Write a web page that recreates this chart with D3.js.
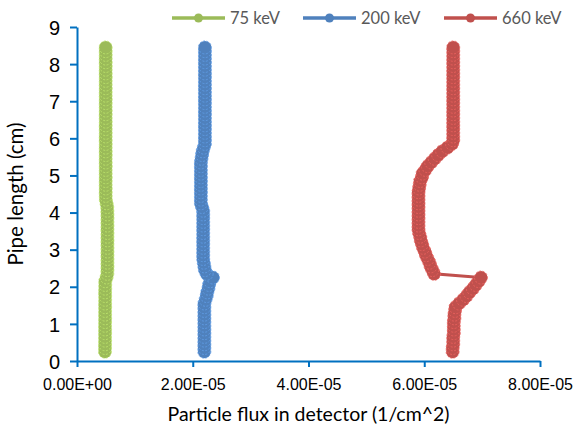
<!DOCTYPE html>
<html><head><meta charset="utf-8">
<script src="https://cdn.jsdelivr.net/npm/d3@7"></script>
<style>html,body{margin:0;padding:0;background:#fff;}svg{display:block;font-family:Lato,"Open Sans",sans-serif;}</style>
</head><body><div id="chart"></div>
<script>
const pipeLength = [0.25,0.35,0.45,0.55,0.65,0.75,0.85,0.95,1.05,1.15,1.25,1.35,1.45,1.55,1.65,1.75,1.85,1.95,2.05,2.15,2.25,2.35,2.45,2.55,2.65,2.75,2.85,2.95,3.05,3.15,3.25,3.35,3.45,3.55,3.65,3.75,3.85,3.95,4.05,4.15,4.25,4.35,4.45,4.55,4.65,4.75,4.85,4.95,5.05,5.15,5.25,5.35,5.45,5.55,5.65,5.75,5.85,5.95,6.05,6.15,6.25,6.35,6.45,6.55,6.65,6.75,6.85,6.95,7.05,7.15,7.25,7.35,7.45,7.55,7.65,7.75,7.85,7.95,8.05,8.15,8.25,8.35,8.45];

const flux75 = [
0.483e-5,0.484e-5,0.484e-5,0.485e-5,0.484e-5,0.485e-5,0.485e-5,0.484e-5,0.485e-5,0.486e-5,
0.485e-5,0.485e-5,0.486e-5,0.485e-5,0.486e-5,0.486e-5,0.485e-5,0.487e-5,0.487e-5,0.488e-5,
0.510e-5,
0.524e-5,0.525e-5,0.526e-5,0.525e-5,0.526e-5,0.525e-5,0.526e-5,0.526e-5,0.525e-5,0.526e-5,
0.525e-5,0.526e-5,0.525e-5,0.526e-5,0.525e-5,0.526e-5,0.525e-5,0.524e-5,0.522e-5,
0.510e-5,
0.497e-5,0.496e-5,0.495e-5,0.496e-5,0.495e-5,0.495e-5,0.496e-5,0.495e-5,0.495e-5,0.496e-5,
0.495e-5,0.495e-5,0.496e-5,0.495e-5,0.495e-5,0.496e-5,0.495e-5,0.495e-5,0.496e-5,0.495e-5,
0.495e-5,0.496e-5,0.495e-5,0.495e-5,0.496e-5,0.495e-5,0.495e-5,0.496e-5,0.495e-5,0.495e-5,
0.496e-5,0.495e-5,0.495e-5,0.496e-5,0.495e-5,0.495e-5,0.496e-5,0.495e-5,0.495e-5,0.496e-5,
0.495e-5,0.495e-5];

const flux200 = [
2.20e-5,2.20e-5,2.20e-5,2.20e-5,2.20e-5,2.20e-5,2.20e-5,2.20e-5,2.20e-5,2.20e-5,2.20e-5,2.20e-5,2.20e-5,
2.20e-5,2.22e-5,2.24e-5,2.25e-5,2.27e-5,2.28e-5,2.30e-5,2.35e-5,
2.24e-5,2.21e-5,2.20e-5,2.19e-5,
2.18e-5,2.18e-5,2.18e-5,2.18e-5,2.18e-5,2.18e-5,2.18e-5,2.18e-5,2.18e-5,2.18e-5,2.18e-5,2.18e-5,2.18e-5,2.18e-5,
2.16e-5,
2.14e-5,2.14e-5,2.14e-5,2.14e-5,2.14e-5,2.14e-5,2.14e-5,2.14e-5,2.14e-5,2.14e-5,2.14e-5,2.14e-5,
2.15e-5,2.16e-5,2.17e-5,2.19e-5,
2.21e-5,2.21e-5,2.21e-5,2.21e-5,2.21e-5,2.21e-5,2.21e-5,2.21e-5,2.21e-5,2.21e-5,2.21e-5,2.21e-5,2.21e-5,2.21e-5,
2.21e-5,2.21e-5,2.21e-5,2.21e-5,2.21e-5,2.21e-5,2.21e-5,2.21e-5,2.21e-5,2.21e-5,2.21e-5,2.21e-5,2.21e-5];

const flux660 = [
6.49e-5,6.49e-5,6.50e-5,6.50e-5,6.50e-5,6.51e-5,6.51e-5,6.51e-5,6.51e-5,6.52e-5,6.52e-5,6.53e-5,6.54e-5,
6.60e-5,6.67e-5,6.73e-5,6.78e-5,6.84e-5,6.89e-5,6.94e-5,6.98e-5,
6.17e-5,6.14e-5,6.11e-5,6.09e-5,6.06e-5,6.03e-5,6.01e-5,5.98e-5,5.96e-5,5.94e-5,5.93e-5,5.91e-5,
5.90e-5,5.90e-5,5.90e-5,5.90e-5,5.90e-5,5.90e-5,5.90e-5,5.90e-5,5.90e-5,5.90e-5,
5.90e-5,5.91e-5,5.92e-5,5.93e-5,5.96e-5,5.97e-5,6.02e-5,6.06e-5,6.12e-5,6.18e-5,6.24e-5,6.31e-5,6.40e-5,6.48e-5,
6.50e-5,6.50e-5,6.50e-5,6.50e-5,6.50e-5,6.50e-5,6.50e-5,6.50e-5,6.50e-5,6.50e-5,6.50e-5,6.50e-5,6.50e-5,
6.50e-5,6.50e-5,6.50e-5,6.50e-5,6.50e-5,6.50e-5,6.50e-5,6.50e-5,6.50e-5,6.50e-5,6.50e-5,6.50e-5,6.50e-5];

const seriesNames = ["75 keV","200 keV","660 keV"];
const seriesColors = ["#9BBB59","#4F81BD","#C0504D"];
const xTicks = [0, 2e-5, 4e-5, 6e-5, 8e-5];
const xTickLabels = ["0.00E+00","2.00E-05","4.00E-05","6.00E-05","8.00E-05"];
const yTicks = [0,1,2,3,4,5,6,7,8,9];
const xTitle = "Particle flux in detector (1/cm^2)";
const yTitle = "Pipe length (cm)";

const W = 574, H = 430;
const axisColor = "#0070C0";
const svg = d3.select("#chart").append("svg").attr("width", W).attr("height", H);

const x = d3.scaleLinear().domain([0, 8e-5]).range([77, 540]);
const y = d3.scaleLinear().domain([0, 9]).range([361, 27]);

// axes
const yAxis = svg.append("g").attr("transform", `translate(${x(0)},0)`)
  .call(d3.axisLeft(y).tickValues(yTicks).tickSize(7).tickSizeOuter(0).tickPadding(10).tickFormat(d3.format("d")));
yAxis.selectAll("path,line").attr("stroke", axisColor).attr("stroke-width", 2);
yAxis.selectAll("text").attr("font-size", 20).attr("fill", "#000").attr("dy", "0.36em");

const xAxis = svg.append("g").attr("transform", `translate(0,${y(0)})`)
  .call(d3.axisBottom(x).tickValues(xTicks).tickSize(6).tickSizeOuter(0).tickPadding(12)
    .tickFormat((d, i) => xTickLabels[i]));
xAxis.selectAll("path,line").attr("stroke", axisColor).attr("stroke-width", 2);
xAxis.selectAll("text").attr("font-size", 16).attr("fill", "#000");

// titles
svg.append("text").attr("x", (x(0) + x(8e-5)) / 2).attr("y", 421)
  .attr("text-anchor", "middle").attr("font-size", 19.5).attr("fill", "#000").text(xTitle);
svg.append("text").attr("transform", `translate(23,${(y(0) + y(9)) / 2}) rotate(-90)`)
  .attr("text-anchor", "middle").attr("font-size", 20.5).attr("fill", "#000").text(yTitle);

// series
const allFlux = [flux75, flux200, flux660];
const line = d3.line().x(d => x(d[0])).y(d => y(d[1]));
allFlux.forEach((arr, s) => {
  const pts = arr.map((v, i) => [v, pipeLength[i]]);
  const g = svg.append("g");
  g.append("path").datum(pts).attr("d", line).attr("fill", "none")
    .attr("stroke", seriesColors[s]).attr("stroke-width", 3);
  g.selectAll("circle").data(pts).enter().append("circle")
    .attr("cx", d => x(d[0])).attr("cy", d => y(d[1])).attr("r", 6.5)
    .attr("fill", seriesColors[s])
    .attr("stroke", d3.color(seriesColors[s]).brighter(0.6)).attr("stroke-width", 0.8)
    .attr("stroke-dasharray", "2,1.5");
});

// legend
const legendX = [172, 303, 444];
seriesNames.forEach((name, s) => {
  const g = svg.append("g").attr("transform", `translate(${legendX[s]},18)`);
  g.append("line").attr("x1", 0).attr("x2", 53).attr("y1", 0).attr("y2", 0)
    .attr("stroke", seriesColors[s]).attr("stroke-width", 3.5);
  g.append("circle").attr("cx", 26.5).attr("cy", 0).attr("r", 4.5).attr("fill", seriesColors[s]);
  g.append("text").attr("x", 58).attr("y", 0).attr("dy", "0.36em")
    .attr("font-size", 16.5).attr("fill", "#595959").text(name);
});
</script></body></html>
